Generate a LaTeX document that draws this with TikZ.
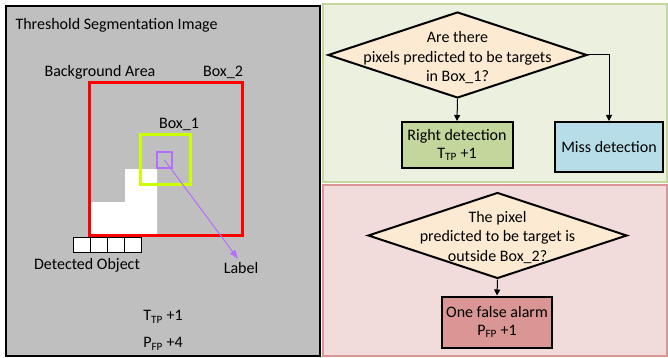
\documentclass[tikz,border=0pt]{standalone}
\usepackage{fontspec}
\setmainfont{Carlito}
\usetikzlibrary{shapes.geometric,arrows.meta}
\definecolor{panelgray}{RGB}{191,191,191}
\definecolor{greenbg}{RGB}{235,241,222}
\definecolor{greenline}{RGB}{195,214,155}
\definecolor{pinkbg}{RGB}{242,220,219}
\definecolor{pinkline}{RGB}{217,150,148}
\definecolor{peach}{RGB}{253,234,210}
\definecolor{okgreen}{RGB}{195,214,155}
\definecolor{missblue}{RGB}{183,222,232}
\definecolor{alarmred}{RGB}{217,150,148}
\definecolor{boxyellow}{RGB}{204,255,0}
\definecolor{labelpurple}{RGB}{180,110,255}
\begin{document}
\begin{tikzpicture}[x=1pt,y=-1pt,font=\fontsize{16}{18}\selectfont,
  decision/.style={diamond,draw=black,line width=2pt,fill=peach,inner sep=0pt,
    minimum width=259pt,minimum height=86pt},
  asks/.style={align=center,font=\fontsize{16}{19.5}\selectfont},
  result/.style={rectangle,draw=black,line width=2pt,align=center,inner sep=0pt},
  flow/.style={-{Triangle[length=6pt,width=6pt]},line width=1pt}]
  \useasboundingbox (0,0) rectangle (668,358);
  % panels
  \draw[line width=2pt,fill=panelgray] (6,6) rectangle (320,356);
  \draw[line width=2pt,draw=greenline,fill=greenbg] (323,4) rectangle (667,182);
  \draw[line width=2pt,draw=pinkline,fill=pinkbg] (323,185) rectangle (667,356);

  % segmentation image
  \node[anchor=west] (title) at (12,25) {Threshold Segmentation Image};
  \node (bg) at (100,72) {Background Area};
  \node (b2) at (223,72) {Box\_2};
  \node (b1) at (179,124) {Box\_1};
  \fill[white] (89,235) -- (89,202) -- (125,202) -- (125,169) -- (157,169) -- (157,235) -- cycle;
  \draw[red,line width=3pt] (89,83) rectangle (242,235);
  \draw[boxyellow,line width=3pt] (140,135) rectangle (190,184);
  \node[draw=labelpurple,line width=2pt,minimum size=15pt,inner sep=0pt] (px) at (164.5,160) {};
  \node (lbl) at (241,268) {Label};
  \draw[labelpurple,line width=1pt,-{Triangle[length=9pt,width=6pt]}] (px.center) -- ([xshift=-3pt]lbl.north);
  \foreach \i in {0,...,3}
    \draw[fill=white] (73+17*\i,237) rectangle ++(17,15);
  \node (obj) at (87,265) {Detected Object};
  \node (tp) at (163,317) {T\textsubscript{TP} +1};
  \node (fp) at (163,344) {P\textsubscript{FP} +4};

  % detection
  \node[decision] (q1) at (457.5,55) {};
  \node[asks] at ([yshift=-3pt]q1.center) {Are there\\pixels predicted to be targets\\in Box\_1?};
  \node[result,fill=okgreen,minimum width=111pt,minimum height=46pt] (hit) at (457,145) {Right detection\\T\textsubscript{TP} +1};
  \node[result,fill=missblue,minimum width=108pt,minimum height=50pt] (miss) at (609,147) {Miss detection};
  \draw[flow] (q1.south) -- (hit.north);
  \draw[flow] (q1.east) -| (miss.north);

  % false alarm
  \node[decision] (q2) at (497.5,235.5) {};
  \node[asks] at ([yshift=-2pt]q2.center) {The pixel\\predicted to be target is\\outside Box\_2?};
  \node[result,fill=alarmred,minimum width=110pt,minimum height=51pt] (alarm) at (497,322) {One false alarm\\P\textsubscript{FP} +1};
  \draw[flow] (q2.south) -- (alarm.north);
\end{tikzpicture}
\end{document}
